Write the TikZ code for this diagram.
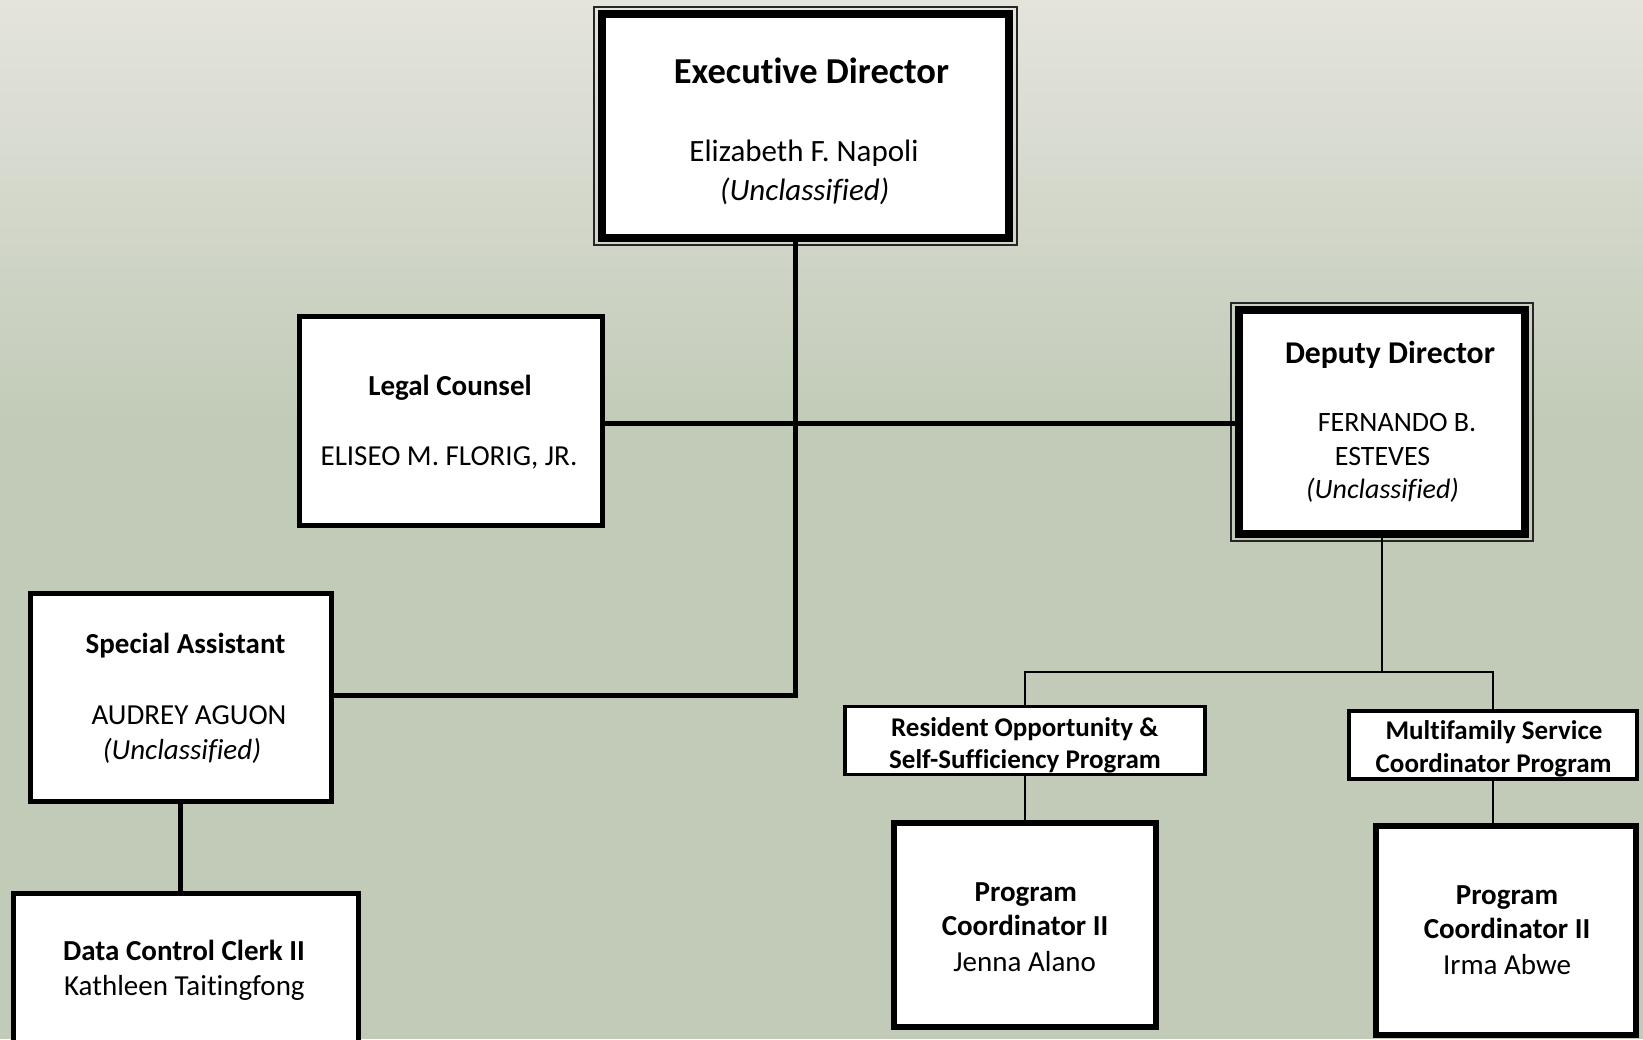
\documentclass[tikz,border=0pt]{standalone}
\usepackage{fontspec}
\setmainfont{Carlito}[Ligatures=NoCommon]
\newcommand\fsz[1]{\fontsize{#1}{#1}\selectfont}
\definecolor{bgtop}{RGB}{228,228,221}
\definecolor{bgbot}{RGB}{194,203,184}
\begin{document}
\begin{tikzpicture}[x=1pt,y=-1pt,
  box/.style={draw=black, fill=white, rectangle, line width=5pt, inner sep=0pt, outer sep=0pt},
  bigbox/.style={box, line width=8pt},
  progbox/.style={box, line width=3.5pt},
  outerthin/.style={draw=black!85, line width=1.6pt},
  conn/.style={draw=black, line width=5pt},
  thinconn/.style={draw=black, line width=2.6pt},
  txt/.style={inner sep=0pt, outer sep=0pt, anchor=base, align=center}
]
\useasboundingbox (0,0) rectangle (1643,1039);
\clip (0,0) rectangle (1643,1039);
% background
\fill[top color=bgtop, bottom color=bgbot] (0,0) rectangle (1643,420);
\fill[bgbot] (0,419) rectangle (1643,1039);

% boxes
\node[bigbox, minimum width=407pt, minimum height=224pt] (ed) at (805.5,126) {};
\draw[outerthin] ([xshift=-8pt,yshift=7pt]ed.north west) rectangle ([xshift=8pt,yshift=-7pt]ed.south east);
\node[bigbox, minimum width=286pt, minimum height=224pt] (dd) at (1382,422) {};
\draw[outerthin] ([xshift=-8pt,yshift=7pt]dd.north west) rectangle ([xshift=8pt,yshift=-7pt]dd.south east);
\node[box, minimum width=303pt, minimum height=209pt] (lc) at (450.5,420.5) {};
\node[box, minimum width=301pt, minimum height=208pt] (sa) at (180.5,697) {};
\node[box, minimum width=345pt, minimum height=244pt] (dcc) at (185.5,1015) {};
\node[progbox, minimum width=360pt, minimum height=68pt] (ross) at (1025,740.5) {};
\node[progbox, line width=4pt, minimum width=288pt, minimum height=68pt] (msc) at (1493,745) {};
\node[box, line width=6pt, minimum width=262pt, minimum height=204pt] (pc1) at (1025,925) {};
\node[box, line width=6pt, minimum width=260pt, minimum height=209pt] (pc2) at (1506,930) {};

% junctions
\coordinate (j1) at (795,423);
\coordinate (j2) at (795,695.5);
\coordinate (j3) at (1382,672);

% connectors
\draw[conn] (ed.south -| j1) -- (j2) -- (sa.east |- j2);
\draw[conn] (lc.east |- j1) -- (dd.west |- j1);
\draw[thinconn] (dd.south) -- (j3);
\draw[thinconn] (ross.north) -- (ross.north |- j3) -- (msc.north |- j3) -- (msc.north);
\draw[thinconn] (ross.south) -- (pc1.north);
\draw[thinconn] (msc.south) -- (msc.south |- pc2.north);
\draw[conn] (sa.south) -- (sa.south |- dcc.north);

% texts
\node[txt, font=\fsz{36.5}\bfseries] (t-ed1) at (811.5,83) {Executive Director};
\node[txt, font=\fsz{31}] (t-ed2) at (804,161) {Elizabeth F. Napoli};
\node[txt, font=\fsz{31}\itshape] (t-ed3) at (804.7,200.5) {(Unclassified)};

\node[txt, font=\fsz{31.7}\bfseries] (t-dd1) at (1390,363) {Deputy Director};
\node[txt, font=\fsz{28}] (t-dd2) at (1397,431) {FERNANDO B.};
\node[txt, font=\fsz{28}] (t-dd3) at (1382.6,465) {ESTEVES};
\node[txt, font=\fsz{28}\itshape] (t-dd4) at (1382.6,498.5) {(Unclassified)};

\node[txt, font=\fsz{29}\bfseries] (t-lc1) at (450,395) {Legal Counsel};
\node[txt, font=\fsz{29}] (t-lc2) at (449,465) {ELISEO M. FLORIG, JR.};

\node[txt, font=\fsz{29}\bfseries] (t-sa1) at (185.5,653.5) {Special Assistant};
\node[txt, font=\fsz{29}] (t-sa2) at (189,724) {AUDREY AGUON};
\node[txt, font=\fsz{29}\itshape] (t-sa3) at (182,759.5) {(Unclassified)};

\node[txt, font=\fsz{29}\bfseries] (t-dc1) at (184,960) {Data Control Clerk II};
\node[txt, font=\fsz{29}] (t-dc2) at (184.4,995) {Kathleen Taitingfong};

\node[txt, font=\fsz{27}\bfseries] (t-ro1) at (1024.7,736.5) {Resident Opportunity \&};
\node[txt, font=\fsz{27}\bfseries] (t-ro2) at (1025,768) {Self-Sufficiency Program};

\node[txt, font=\fsz{27}\bfseries] (t-ms1) at (1494,739.5) {Multifamily Service};
\node[txt, font=\fsz{27}\bfseries] (t-ms2) at (1493.6,772.5) {Coordinator Program};

\node[txt, font=\fsz{29}\bfseries] (t-p11) at (1025.8,901) {Program};
\node[txt, font=\fsz{29}\bfseries] (t-p12) at (1025,935) {Coordinator II};
\node[txt, font=\fsz{29}] (t-p13) at (1024.7,971) {Jenna Alano};

\node[txt, font=\fsz{29}\bfseries] (t-p21) at (1507,904) {Program};
\node[txt, font=\fsz{29}\bfseries] (t-p22) at (1507,938) {Coordinator II};
\node[txt, font=\fsz{29}] (t-p23) at (1507,974) {Irma Abwe};
\end{tikzpicture}
\end{document}
